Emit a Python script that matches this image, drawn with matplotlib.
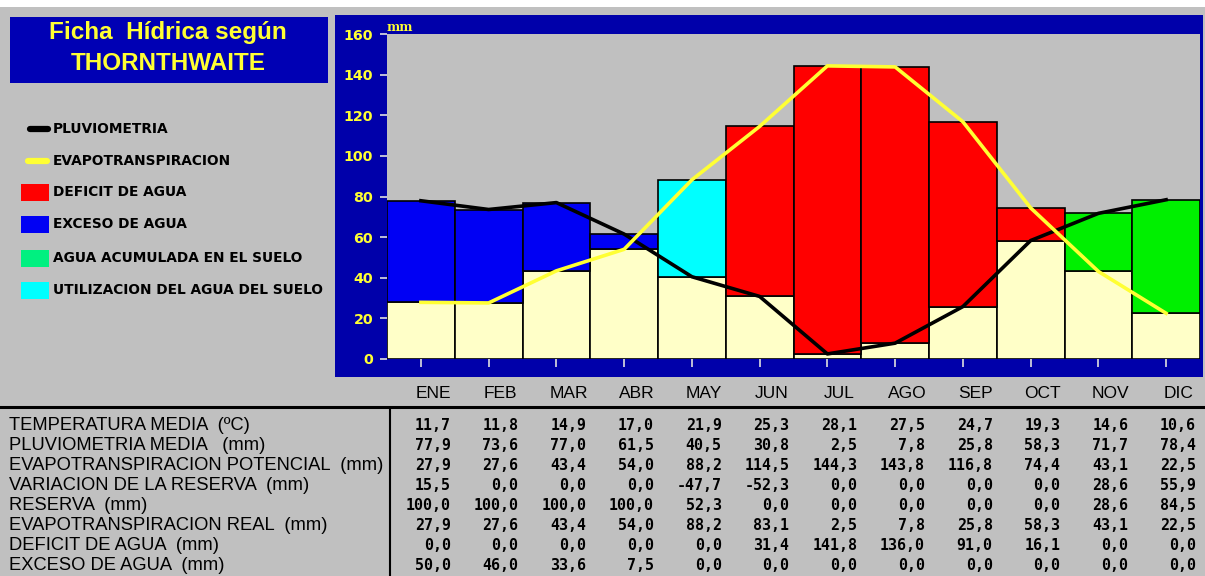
"""
Ficha hidrica segun Thornthwaite: climograma con balance de agua
y tabla de valores mensuales debajo.
"""

import matplotlib
matplotlib.use("Agg")
import matplotlib.pyplot as plt
import matplotlib.transforms as mtransforms
from matplotlib.patches import Rectangle
from matplotlib.lines import Line2D
import numpy as np

# --- datos ---
meses = ["ENE", "FEB", "MAR", "ABR", "MAY", "JUN",
         "JUL", "AGO", "SEP", "OCT", "NOV", "DIC"]
temperatura = [11.7, 11.8, 14.9, 17.0, 21.9, 25.3, 28.1, 27.5, 24.7, 19.3, 14.6, 10.6]
pluviometria = [77.9, 73.6, 77.0, 61.5, 40.5, 30.8, 2.5, 7.8, 25.8, 58.3, 71.7, 78.4]
etp = [27.9, 27.6, 43.4, 54.0, 88.2, 114.5, 144.3, 143.8, 116.8, 74.4, 43.1, 22.5]
var_reserva = [15.5, 0.0, 0.0, 0.0, -47.7, -52.3, 0.0, 0.0, 0.0, 0.0, 28.6, 55.9]
reserva = [100.0, 100.0, 100.0, 100.0, 52.3, 0.0, 0.0, 0.0, 0.0, 0.0, 28.6, 84.5]
etr = [27.9, 27.6, 43.4, 54.0, 88.2, 83.1, 2.5, 7.8, 25.8, 58.3, 43.1, 22.5]
deficit = [0.0, 0.0, 0.0, 0.0, 0.0, 31.4, 141.8, 136.0, 91.0, 16.1, 0.0, 0.0]
exceso = [50.0, 46.0, 33.6, 7.5, 0.0, 0.0, 0.0, 0.0, 0.0, 0.0, 0.0, 0.0]

# tramo superior de cada barra (entre pluviometria y ETP)
tramo = ["exceso"] * 4 + ["utilizacion"] + ["deficit"] * 5 + ["acumulada"] * 2

filas = [
    ("TEMPERATURA MEDIA  (ºC)", temperatura),
    ("PLUVIOMETRIA MEDIA   (mm)", pluviometria),
    ("EVAPOTRANSPIRACION POTENCIAL  (mm)", etp),
    ("VARIACION DE LA RESERVA  (mm)", var_reserva),
    ("RESERVA  (mm)", reserva),
    ("EVAPOTRANSPIRACION REAL  (mm)", etr),
    ("DEFICIT DE AGUA  (mm)", deficit),
    ("EXCESO DE AGUA  (mm)", exceso),
]

# --- estilo ---
GRIS = "#c0c0c0"
AZUL_MARCO = "#0000aa"
AZUL_TITULO = "#0000b4"
AMARILLO = "#ffff33"
CREMA = "#ffffc8"
colores_tramo = {
    "exceso": "#0000f4",
    "utilizacion": "#00ffff",
    "deficit": "#ff0000",
    "acumulada": "#00f000",
}

W, H = 1205, 576


def fx(x):
    return x / W


def fy(y):
    return 1 - y / H


def caja(fig, x0, y0, x1, y1, color, z=-1):
    fig.add_artist(Rectangle((fx(x0), fy(y1)), (x1 - x0) / W, (y1 - y0) / H,
                             transform=fig.transFigure, facecolor=color,
                             edgecolor="none", zorder=z))


fig = plt.figure(figsize=(W / 100, H / 100), dpi=100, facecolor=GRIS)

# franja blanca superior, marco del grafico y caja del titulo
caja(fig, 0, 0, W, 7, "white")
caja(fig, 335, 15, 1203, 377, AZUL_MARCO)
caja(fig, 10, 17, 328, 83, AZUL_TITULO)

fig.text(fx(168), fy(33), "Ficha  Hídrica según", color=AMARILLO,
         fontsize=17.5, fontweight="bold", family="Liberation Sans",
         ha="center", va="center")
fig.text(fx(168), fy(63), "THORNTHWAITE", color=AMARILLO,
         fontsize=17.5, fontweight="bold", family="Liberation Sans",
         ha="center", va="center")

# --- leyenda ---
ley_font = dict(fontsize=9.9, fontweight="bold", family="DejaVu Sans",
                color="black", va="center", ha="left")
fig.add_artist(Line2D([fx(30), fx(48)], [fy(129), fy(129)], color="black",
                      lw=4.5, solid_capstyle="round", transform=fig.transFigure))
fig.text(fx(53), fy(129), "PLUVIOMETRIA", **ley_font)
fig.add_artist(Line2D([fx(28), fx(47)], [fy(161), fy(161)], color=AMARILLO,
                      lw=4.5, solid_capstyle="round", transform=fig.transFigure))
fig.text(fx(53), fy(161), "EVAPOTRANSPIRACION", **ley_font)

leyenda_cajas = [
    ("DEFICIT DE AGUA", "#ff0000", 192.5),
    ("EXCESO DE AGUA", "#0000f4", 224.5),
    ("AGUA ACUMULADA EN EL SUELO", "#00f080", 258),
    ("UTILIZACION DEL AGUA DEL SUELO", "#00ffff", 290.5),
]
for texto, color, yc in leyenda_cajas:
    caja(fig, 21, yc - 8.5, 49, yc + 8.5, color, z=1)
    fig.text(fx(53), fy(yc), texto, **ley_font)

# --- grafico ---
ax = fig.add_axes([fx(387), fy(359), (1200 - 387) / W, (359 - 34) / H])
ax.set_facecolor(GRIS)
x = np.arange(len(meses))
p = np.array(pluviometria)
e = np.array(etp)
base = np.minimum(p, e)
tope = np.maximum(p, e)

ax.bar(x, base, width=1.0, color=CREMA, edgecolor="black", linewidth=1.2, zorder=2)
ax.bar(x, tope - base, bottom=base, width=1.0,
       color=[colores_tramo[t] for t in tramo],
       edgecolor="black", linewidth=1.2, zorder=2)

ax.plot(x, pluviometria, color="black", lw=2.6, zorder=3)
ax.plot(x, etp, color=AMARILLO, lw=2.6, zorder=4)

ax.set_xlim(-0.5, 11.5)
ax.set_ylim(0, 159.5)
for s in ax.spines.values():
    s.set_visible(False)

ax.set_yticks(np.arange(0, 161, 20))
ax.tick_params(axis="y", direction="out", length=5, width=1.2, pad=5,
               color="#e0e0e0", labelcolor=AMARILLO, labelsize=10.3)
for lab in ax.get_yticklabels():
    lab.set_fontweight("bold")
ax.set_xticks(x)
ax.tick_params(axis="x", direction="out", length=6, width=1.2,
               color="#e0e0e0", labelbottom=False)
ax.text(0.0, 1.0, "mm", transform=ax.transAxes, color=AMARILLO,
        fontsize=9, fontweight="bold", family="DejaVu Serif",
        ha="left", va="bottom")

# --- meses y tabla ---
trans = mtransforms.blended_transform_factory(ax.transData, fig.transFigure)
for i, m in enumerate(meses):
    fig.text(i + 0.18, fy(393), m, transform=trans, fontsize=12.5,
             family="Liberation Sans", ha="center", va="center")

fig.add_artist(Line2D([0, 1], [fy(407), fy(407)], color="black", lw=2.2,
                      transform=fig.transFigure))
fig.add_artist(Line2D([fx(390), fx(390)], [fy(410), 0], color="black", lw=1.5,
                      transform=fig.transFigure))

for k, (etiqueta, valores) in enumerate(filas):
    yk = fy(425 + 20.05 * k)
    fig.text(fx(9), yk, etiqueta, fontsize=13.2, family="Liberation Sans",
             ha="left", va="center")
    for i, v in enumerate(valores):
        fig.text(i + 0.44, yk, f"{v:.1f}".replace(".", ","), transform=trans,
                 fontsize=10.8, fontweight="bold", family="DejaVu Sans Mono",
                 ha="right", va="center")

fig.savefig("out.png", dpi=100, facecolor=GRIS)
